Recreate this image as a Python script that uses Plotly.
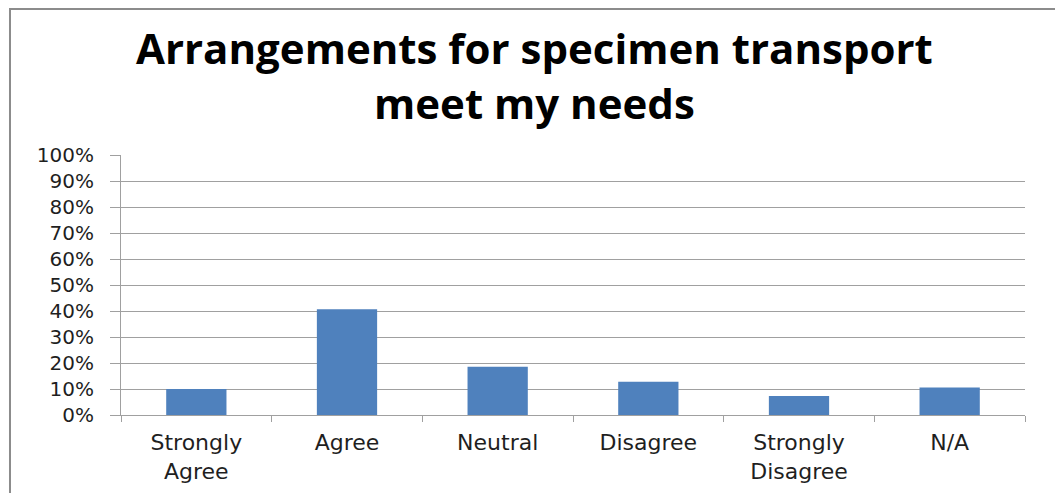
import plotly.graph_objects as go

# survey responses (share of respondents)
categories = ["Strongly<br>Agree", "Agree", "Neutral", "Disagree", "Strongly<br>Disagree", "N/A"]
shares = [0.10, 0.407, 0.186, 0.128, 0.073, 0.106]
y_ticks = [i / 10 for i in range(11)]
y_tick_labels = [f"{i * 10}%" for i in range(11)]
title_text = "<b>Arrangements for specimen transport<br>meet my needs</b>"

fig = go.Figure([go.Bar(x=categories, y=shares, marker_color="#4f81bd", marker_line_width=0)])

# page body has an 8px margin, so the figure is a bit smaller than the window
fig.update_layout(
    width=1055, height=485,
    margin=dict(l=113, r=38, t=147, b=78),
    plot_bgcolor="white", paper_bgcolor="white",
    bargap=0.6,
    showlegend=False,
    font=dict(family="DejaVu Sans", color="#1f1f1f"),
    shapes=[dict(type="rect", xref="paper", yref="paper",
                 x0=-0.1228, x1=1.0354, y0=-0.4, y1=1.5615,
                 line=dict(color="#8c8c8c", width=2), fillcolor="rgba(0,0,0,0)", layer="below")],
)

fig.add_annotation(text=title_text, xref="paper", yref="paper",
                   x=0.457, y=1.3096, xanchor="center", yanchor="middle", showarrow=False,
                   font=dict(family="Open Sans", size=42, color="black"))

fig.update_yaxes(range=[0, 1], tickvals=y_ticks, ticktext=y_tick_labels,
                 showgrid=True, gridcolor="#a0a0a0", gridwidth=1,
                 showline=True, linecolor="#a0a0a0", linewidth=1,
                 ticks="outside", ticklen=10, tickcolor="#a0a0a0",
                 ticklabelstandoff=12, automargin=False,
                 tickfont=dict(size=20), zeroline=False)
fig.update_xaxes(showline=True, linecolor="#a0a0a0", linewidth=1,
                 ticks="outside", ticklen=6, tickcolor="#a0a0a0", tickson="boundaries",
                 ticklabelstandoff=8, automargin=False,
                 tickfont=dict(size=22), showgrid=False)

fig.write_html("out.html")
